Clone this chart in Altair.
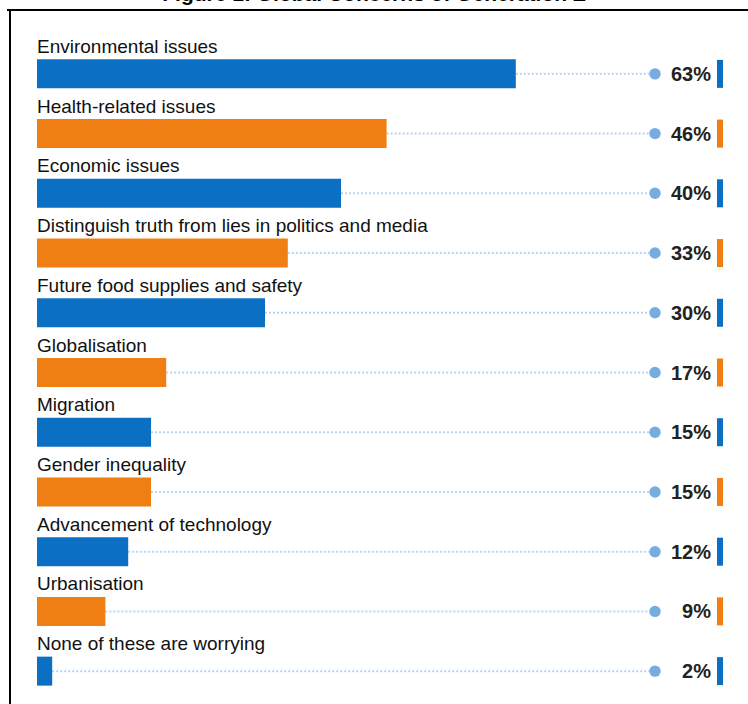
import altair as alt
import pandas as pd

categories = [
    "Environmental issues",
    "Health-related issues",
    "Economic issues",
    "Distinguish truth from lies in politics and media",
    "Future food supplies and safety",
    "Globalisation",
    "Migration",
    "Gender inequality",
    "Advancement of technology",
    "Urbanisation",
    "None of these are worrying",
]
values = [63, 46, 40, 33, 30, 17, 15, 15, 12, 9, 2]
pct_labels = ["63%", "46%", "40%", "33%", "30%", "17%", "15%", "15%", "12%", "9%", "2%"]
groups = ["a", "b"] * 5 + ["a"]
title_text = ["Figure 1: Global Concerns of Generation Z"]

BLUE = "#0b6fc4"
ORANGE = "#ef7f12"

df = pd.DataFrame({"cat": categories, "value": values, "pct": pct_labels, "grp": groups})

y_enc = alt.Y("cat:N", sort=categories, axis=None,
              scale=alt.Scale(type="band", paddingInner=0, paddingOuter=0))
x_scale = alt.Scale(domain=[0, 90], nice=False, zero=True)
color_enc = alt.Color("grp:N", scale=alt.Scale(domain=["a", "b"], range=[BLUE, ORANGE]), legend=None)

base = alt.Chart(df)

bars = base.mark_bar(height=29, yOffset=15).encode(
    x=alt.X("value:Q", scale=x_scale, axis=None),
    y=y_enc,
    color=color_enc,
)

dots_line = base.mark_rule(strokeDash=[2, 2], strokeWidth=2, color="#b7d4ee", yOffset=15).encode(
    x=alt.X("value:Q", scale=x_scale, axis=None),
    x2=alt.value(612),
    y=y_enc,
)

circles = base.mark_circle(size=130, color="#77ace0", opacity=1, yOffset=15).encode(
    x=alt.value(618),
    y=y_enc,
)

pct_text = base.mark_text(align="right", baseline="middle", fontSize=20, fontWeight="bold",
                          font="Liberation Sans", color="#222222", yOffset=16).encode(
    x=alt.value(674),
    y=y_enc,
    text="pct:N",
)

end_marks = base.mark_bar(height=28, yOffset=15).encode(
    x=alt.value(680),
    x2=alt.value(686),
    y=y_enc,
    color=color_enc,
)

row_labels = base.mark_text(align="left", baseline="alphabetic", fontSize=19,
                            font="Liberation Sans", color="#111111", yOffset=-6).encode(
    x=alt.value(0),
    y=y_enc,
    text="cat:N",
)

frame_df = pd.DataFrame({"k": [0]})
left_line = alt.Chart(frame_df).mark_rule(color="black", strokeWidth=2).encode(
    x=alt.value(-27), y=alt.value(-19), y2=alt.value(690)
)
top_line = alt.Chart(frame_df).mark_rule(color="black", strokeWidth=2).encode(
    x=alt.value(-30), x2=alt.value(711), y=alt.value(-19)
)

title = alt.Chart(pd.DataFrame({"t": title_text})).mark_text(
    align="center", baseline="alphabetic", fontSize=21, fontWeight="bold",
    font="Liberation Sans", color="black"
).encode(x=alt.value(337), y=alt.value(-28), text="t:N")

chart = alt.layer(
    dots_line, bars, circles, pct_text, end_marks, row_labels, left_line, top_line, title
).properties(
    width=684,
    height=657,
    padding={"left": 37, "top": 29, "right": 27, "bottom": 18},
    autosize=alt.AutoSizeParams(type="none"),
    background="white",
).configure_view(stroke=None)

chart.save("out.html", embed_options={"renderer": "svg", "actions": False})
